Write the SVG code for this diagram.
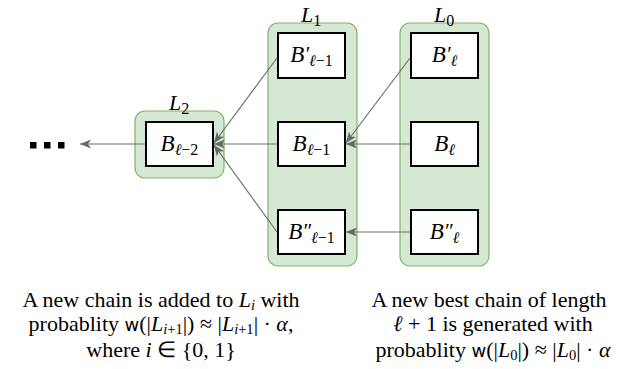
<svg xmlns="http://www.w3.org/2000/svg" width="621" height="369" viewBox="0 0 621 369">
<style>
.grp{fill:#d5e8d4;stroke:#82b366;stroke-width:1.2}
.box{fill:#fff;stroke:#000;stroke-width:2}
text{font-family:"Liberation Serif","Times New Roman",serif;fill:#000}
.lbl{font-size:23px}
.hd{font-size:22px}
.m{font-style:italic}
.sub{font-size:16px}
.pr{font-size:21px}
.edge{stroke:#6e6e6e;stroke-width:1.2;fill:none;marker-end:url(#arr)}
.txt{font-size:22px}
.sf{font-family:"DejaVu Sans","Liberation Sans",sans-serif;font-size:18px}
.ts{font-size:14.5px}
</style>
<defs>
<marker id="arr" markerUnits="userSpaceOnUse" markerWidth="12" markerHeight="10" refX="11" refY="4.5" orient="auto">
<path d="M0,0 L11,4.5 L0,9 L3,4.5 z" fill="#666"/>
</marker>
</defs>

<g id="L2">
<rect class="grp" x="135" y="111" width="89" height="67" rx="10"/>
<text class="hd" x="179" y="109.5" text-anchor="middle"><tspan class="m">L</tspan><tspan class="sub" dy="4">2</tspan></text>
</g>
<g id="L1">
<rect class="grp" x="268" y="23" width="89" height="243" rx="10"/>
<text class="hd" x="311" y="21.5" text-anchor="middle"><tspan class="m">L</tspan><tspan class="sub" dy="4">1</tspan></text>
</g>
<g id="L0">
<rect class="grp" x="400" y="23" width="89" height="243" rx="10"/>
<text class="hd" x="444" y="21.5" text-anchor="middle"><tspan class="m">L</tspan><tspan class="sub" dy="4">0</tspan></text>
</g>

<g id="dots">
<rect x="30" y="142" width="6.5" height="6.5" fill="#000"/>
<rect x="44" y="142" width="6.5" height="6.5" fill="#000"/>
<rect x="58" y="142" width="6.5" height="6.5" fill="#000"/>
</g>

<g id="Bl2">
<rect class="box" x="146" y="122" width="67" height="44"/>
<text class="lbl" x="179.5" y="151" text-anchor="middle"><tspan class="m">B</tspan><tspan class="sub m" dy="4">ℓ</tspan><tspan class="sub">−2</tspan></text>
</g>
<g id="Bpl1">
<rect class="box" x="278" y="33" width="67" height="45"/>
<text class="lbl" x="311.5" y="62" text-anchor="middle"><tspan class="m">B</tspan><tspan class="pr m" dy="-1">′</tspan><tspan class="sub m" dy="5">ℓ</tspan><tspan class="sub">−1</tspan></text>
</g>
<g id="Bl1">
<rect class="box" x="278" y="122" width="67" height="44"/>
<text class="lbl" x="311.5" y="151" text-anchor="middle"><tspan class="m">B</tspan><tspan class="sub m" dy="4">ℓ</tspan><tspan class="sub">−1</tspan></text>
</g>
<g id="Bppl1">
<rect class="box" x="278" y="210" width="67" height="44"/>
<text class="lbl" x="311.5" y="239" text-anchor="middle"><tspan class="m">B</tspan><tspan class="pr m" dy="-1">″</tspan><tspan class="sub m" dy="5">ℓ</tspan><tspan class="sub">−1</tspan></text>
</g>
<g id="Bpl">
<rect class="box" x="411" y="33" width="67" height="45"/>
<text class="lbl" x="444.5" y="62" text-anchor="middle"><tspan class="m">B</tspan><tspan class="pr m" dy="-1">′</tspan><tspan class="sub m" dy="5">ℓ</tspan></text>
</g>
<g id="Bl">
<rect class="box" x="411" y="122" width="67" height="44"/>
<text class="lbl" x="444.5" y="151" text-anchor="middle"><tspan class="m">B</tspan><tspan class="sub m" dy="4">ℓ</tspan></text>
</g>
<g id="Bppl">
<rect class="box" x="411" y="210" width="67" height="44"/>
<text class="lbl" x="444.5" y="239" text-anchor="middle"><tspan class="m">B</tspan><tspan class="pr m" dy="-1">″</tspan><tspan class="sub m" dy="5">ℓ</tspan></text>
</g>

<g id="connectors">
<line class="edge" x1="410" y1="58" x2="346" y2="143"/>
<line class="edge" x1="410" y1="144" x2="346" y2="144"/>
<line class="edge" x1="410" y1="232" x2="346" y2="232"/>
<line class="edge" x1="277" y1="58" x2="214" y2="143"/>
<line class="edge" x1="277" y1="144" x2="214" y2="144"/>
<line class="edge" x1="277" y1="232" x2="214" y2="145"/>
<line class="edge" x1="145" y1="144" x2="80" y2="144"/>
</g>

<g id="caption-left" class="txt" text-anchor="middle">
<text x="161" y="307">A new chain is added to <tspan class="m">L</tspan><tspan class="ts m" dy="3">i</tspan><tspan dy="-3"> with</tspan></text>
<text x="161" y="331">probablity <tspan class="sf">w</tspan>(|<tspan class="m">L</tspan><tspan class="ts m" dy="3">i</tspan><tspan class="ts">+1</tspan><tspan dy="-3">|) ≈ |</tspan><tspan class="m">L</tspan><tspan class="ts m" dy="3">i</tspan><tspan class="ts">+1</tspan><tspan dy="-3">| · </tspan><tspan class="m">α</tspan>,</text>
<text x="161" y="357">where <tspan class="m">i</tspan> ∈ {0, 1}</text>
</g>
<g id="caption-right" class="txt" text-anchor="middle">
<text x="489" y="307">A new best chain of length</text>
<text x="493" y="331"><tspan class="m">ℓ</tspan> + 1 is generated with</text>
<text x="493" y="357">probablity <tspan class="sf">w</tspan>(|<tspan class="m">L</tspan><tspan class="ts" dy="3">0</tspan><tspan dy="-3">|) ≈ |</tspan><tspan class="m">L</tspan><tspan class="ts" dy="3">0</tspan><tspan dy="-3">| · </tspan><tspan class="m">α</tspan></text>
</g>
</svg>
